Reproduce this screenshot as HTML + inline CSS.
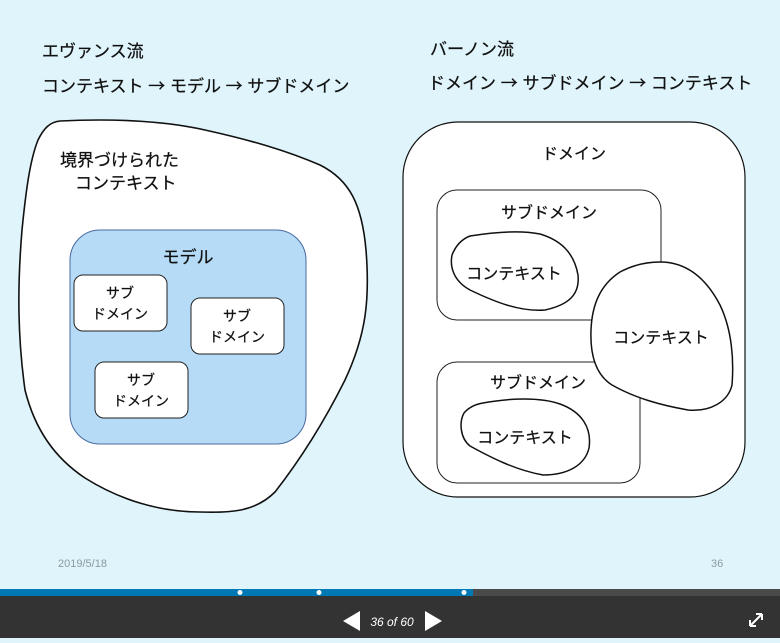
<!DOCTYPE html>
<html><head><meta charset="utf-8"><style>
body{margin:0;width:780px;height:638px;overflow:hidden;background:#dff4fb;font-family:"Liberation Sans","Noto Sans CJK JP",sans-serif;}
svg text{font-family:"Liberation Sans","Noto Sans CJK JP",sans-serif;fill:#111;stroke:#111;stroke-width:0.25;}
.ar{font-family:"Noto Sans CJK JP",sans-serif;}
</style></head><body>
<svg width="780" height="638" viewBox="0 0 780 638" xmlns="http://www.w3.org/2000/svg">
<rect width="780" height="589" fill="#dff4fb"/>
<text x="42" y="57" font-size="17">エヴァンス流</text>
<text x="42" y="92" font-size="17">コンテキスト <tspan class="ar">→</tspan> モデル <tspan class="ar">→</tspan> サブドメイン</text>
<text x="430" y="55" font-size="17">バーノン流</text>
<text x="428" y="89" font-size="17">ドメイン <tspan class="ar">→</tspan> サブドメイン <tspan class="ar">→</tspan> コンテキスト</text>

<path d="M60,121 C120,118 170,122 205,130 C250,140 285,150 320,165 C350,180 362,205 366,250 C370,300 366,335 345,380 C325,420 300,460 275,492 C255,512 230,513 200,512 C160,512 120,500 85,478 C55,458 35,430 25,390 C18,340 17,290 22,230 C26,190 30,160 38,140 C44,128 50,122 60,121 Z" fill="#fff" stroke="#111" stroke-width="1.6"/>
<text x="60" y="166" font-size="17">境界づけられた</text>
<text x="75" y="189" font-size="17">コンテキスト</text>
<rect x="70" y="230" width="236" height="214" rx="30" fill="#b5dbf6" stroke="#4a6aa0" stroke-width="1"/>
<text x="188" y="263" font-size="17" text-anchor="middle">モデル</text>
<g font-size="14" text-anchor="middle">
<rect x="74" y="275" width="93" height="56" rx="9" fill="#fff" stroke="#222"/>
<text x="120" y="298">サブ</text><text x="120" y="319">ドメイン</text>
<rect x="191" y="298" width="93" height="56" rx="9" fill="#fff" stroke="#222"/>
<text x="237" y="321">サブ</text><text x="237" y="342">ドメイン</text>
<rect x="95" y="362" width="93" height="56" rx="9" fill="#fff" stroke="#222"/>
<text x="141" y="385">サブ</text><text x="141" y="406">ドメイン</text>
</g>

<rect x="403" y="122" width="342" height="375" rx="55" fill="#fff" stroke="#111" stroke-width="1.2"/>
<text x="574" y="159" font-size="16" text-anchor="middle">ドメイン</text>
<rect x="437" y="190" width="224" height="130" rx="20" fill="#fff" stroke="#222"/>
<text x="549" y="218" font-size="16" text-anchor="middle">サブドメイン</text>
<rect x="437" y="362" width="203" height="121" rx="20" fill="#fff" stroke="#222"/>
<text x="538" y="388" font-size="16" text-anchor="middle">サブドメイン</text>
<path d="M470,236 C495,232 520,230 540,234 C560,240 574,252 578,275 C580,295 568,305 545,310 C520,312 495,302 470,290 C452,280 450,265 452,255 C456,245 462,239 470,236 Z" fill="#fff" stroke="#111" stroke-width="1.5"/>
<text x="514" y="279" font-size="16" text-anchor="middle">コンテキスト</text>
<path d="M483,403 C510,398 540,397 560,404 C582,412 592,428 589,448 C585,465 568,475 543,475 C515,470 490,457 470,446 C460,438 459,422 464,413 C470,406 477,404 483,403 Z" fill="#fff" stroke="#111" stroke-width="1.5"/>
<text x="525" y="443" font-size="16" text-anchor="middle">コンテキスト</text>
<path d="M660,262 C690,262 708,282 720,305 C732,330 734,360 732,385 C728,402 710,412 688,410 C660,405 635,398 612,385 C596,375 590,355 591,330 C592,305 600,285 620,272 C635,264 648,262 660,262 Z" fill="#fff" stroke="#111" stroke-width="1.5"/>
<text x="661" y="343" font-size="16" text-anchor="middle">コンテキスト</text>

<text x="58" y="567" font-size="11" style="fill:#8a9aa0;stroke:none">2019/5/18</text>
<text x="711" y="567" font-size="11" style="fill:#8a9aa0;stroke:none">36</text>

<rect x="0" y="589" width="780" height="49" fill="#333"/>
<rect x="0" y="589" width="780" height="7" fill="#4a4a4a"/>
<rect x="0" y="589" width="473" height="7" fill="#0078b4"/>
<circle cx="240" cy="592.5" r="2.5" fill="#fff"/>
<circle cx="319" cy="592.5" r="2.5" fill="#fff"/>
<circle cx="464" cy="592.5" r="2.5" fill="#fff"/>
<polygon points="360,611 360,631 343,621" fill="#fff"/>
<polygon points="425,611 425,631 442,621" fill="#fff"/>
<text x="392" y="626" font-size="12" font-style="italic" text-anchor="middle" style="fill:#fff;stroke:none">36 of 60</text>
<path d="M750,626 L762,614 M762,614 L756,614 M762,614 L762,620 M750,626 L756,626 M750,626 L750,620" stroke="#fff" stroke-width="2" fill="none"/>
</svg>
</body></html>
